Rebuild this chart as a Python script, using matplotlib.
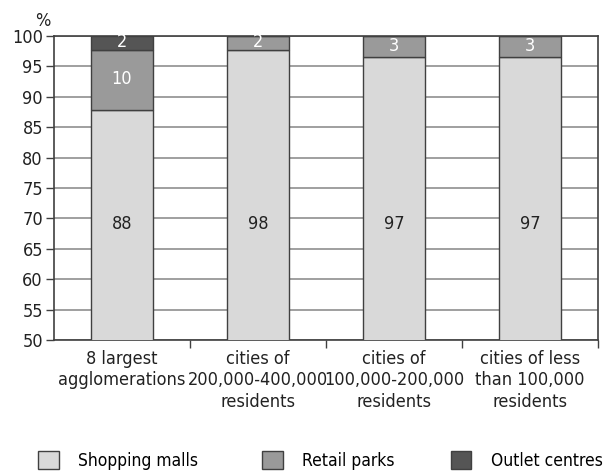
import matplotlib.pyplot as plt
import numpy as np
from matplotlib.patches import Patch

plt.rcParams['font.family'] = ['DejaVu Sans']
plt.rcParams['font.stretch'] = 'condensed'

categories = ['8 largest\nagglomerations', 'cities of\n200,000-400,000\nresidents',
              'cities of\n100,000-200,000\nresidents', 'cities of less\nthan 100,000\nresidents']
malls = np.array([87.8, 97.7, 96.5, 96.5])
retail = np.array([9.9, 2.3, 3.5, 3.5])
outlet = np.array([2.3, 0.0, 0.0, 0.0])
malls_lab = ['88', '98', '97', '97']
retail_lab = ['10', '2', '3', '3']
outlet_lab = ['2', '', '', '']
yticks = np.arange(50, 101, 5)
series = ['Shopping malls', 'Retail parks', 'Outlet centres']

c_mall, c_retail, c_outlet = '#d9d9d9', '#9a9a9a', '#555555'
edge = '#404040'
txt = '#222222'
fs = 13

fig = plt.figure(figsize=(6.09, 4.72), dpi=100)
ax = fig.add_axes([0.0887, 0.2797, 0.8933, 0.644])

x = np.arange(len(categories))
w = 0.45
ax.bar(x, malls, w, color=c_mall, edgecolor=edge, linewidth=1, zorder=3)
ax.bar(x, retail, w, bottom=malls, color=c_retail, edgecolor=edge, linewidth=1, zorder=3)
ax.bar(x, outlet, w, bottom=malls + retail, color=c_outlet, edgecolor=edge, linewidth=1, zorder=3)

for i in range(len(x)):
    ax.text(x[i], 69, malls_lab[i], ha='center', va='center', fontsize=fs, color=txt, zorder=4)
    if retail_lab[i]:
        ax.text(x[i], malls[i] + retail[i] / 2 + 0.1, retail_lab[i], ha='center', va='center',
                fontsize=fs, color='white', zorder=4)
    if outlet_lab[i]:
        ax.text(x[i], malls[i] + retail[i] + outlet[i] / 2 + 0.1, outlet_lab[i], ha='center',
                va='center', fontsize=fs, color='white', zorder=4)

ax.set_ylim(50, 100)
ax.set_xlim(-0.5, 3.5)
ax.set_yticks(yticks)
ax.set_yticklabels([str(t) for t in yticks], fontsize=fs, color=txt)
ax.grid(axis='y', color='#858585', linewidth=1.1, zorder=0)
ax.tick_params(axis='y', length=6, width=1, color='#404040', pad=2)

ax.set_xticks(x)
ax.set_xticklabels(categories, fontsize=fs, color=txt, linespacing=1.25)
ax.set_xticks(np.arange(0.5, 4, 1), minor=True)
ax.tick_params(axis='x', which='major', length=0, pad=7)
ax.tick_params(axis='x', which='minor', length=6, width=1, color='#404040')

for s in ['left', 'bottom', 'top', 'right']:
    ax.spines[s].set_color('#404040')
    ax.spines[s].set_linewidth(1.2)

fig.text(0.057, 0.955, '%', fontsize=fs, color=txt, ha='left', va='center')

colors = [c_mall, c_retail, c_outlet]
anchors = [0.062, 0.43, 0.74]
for name, col, xa in zip(series, colors, anchors):
    fig.legend([Patch(facecolor=col, edgecolor=edge)], [name], loc='center left',
               bbox_to_anchor=(xa, 0.024), frameon=False, fontsize=12.5,
               handlelength=1.2, handleheight=1.2, handletextpad=1.1, borderpad=0, borderaxespad=0)

fig.savefig('out.png', dpi=100)
